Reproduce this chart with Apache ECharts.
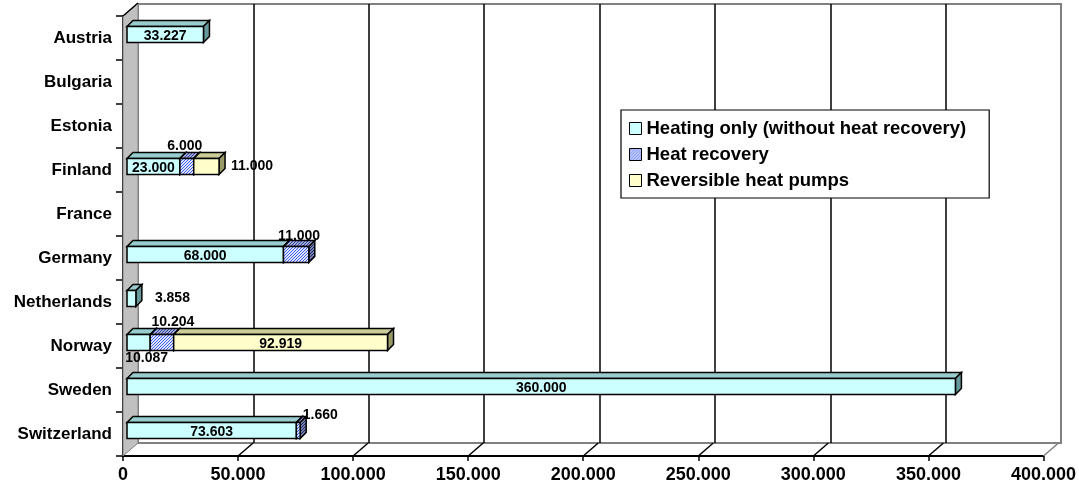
<!DOCTYPE html>
<html>
<head>
<meta charset="utf-8">
<script src="https://cdn.jsdelivr.net/npm/echarts@6/dist/echarts.min.js"></script>
<style>
  html, body { margin: 0; padding: 0; background: #fff; }
  #chart { width: 1079px; height: 488px; }
</style>
</head>
<body>
<div id="chart"></div>
<script>
const categories = ["Austria", "Bulgaria", "Estonia", "Finland", "France", "Germany", "Netherlands", "Norway", "Sweden", "Switzerland"];
const seriesNames = ["Heating only (without heat recovery)", "Heat recovery", "Reversible heat pumps"];
const heatingOnly = [33227, null, null, 23000, null, 68000, 3858, 10087, 360000, 73603];
const heatRecovery = [null, null, null, 6000, null, 11000, null, 10204, null, 1660];
const reversiblePumps = [null, null, null, 11000, null, null, null, 92919, null, null];
const xTicks = [0, 50000, 100000, 150000, 200000, 250000, 300000, 350000, 400000];

const FONT = "'Liberation Sans', Arial, sans-serif";
const WALL_DX = 15, WALL_DY = -13; // depth of the back wall
const BAR_DX = 6, BAR_DY = -6;     // depth of each bar
const BAR_OX = 4, BAR_OY = -3.5;   // bars sit a bit behind the front plane
const BAR_H = 16;

// label placement (style only), key = series index | category
const labelPlace = {
  "1|Finland": { pos: "top", dx: -2 },
  "2|Finland": { pos: "right", dx: 0 },
  "1|Germany": { pos: "top", dx: 3, dy: 2 },
  "0|Netherlands": { pos: "right", dx: 7 },
  "0|Norway": { pos: "bottom", dx: 8 },
  "1|Norway": { pos: "top", dx: 11 },
  "1|Switzerland": { pos: "top", dx: 22, dy: 5 },
};

const fmt = (v) => String(v).replace(/\B(?=(\d{3})+(?!\d))/g, ".");

/**
 * 斜线填充图案
 */
function hatch(bg, fg) {
  const c = document.createElement("canvas");
  c.width = 3;
  c.height = 3;
  const ctx = c.getContext("2d");
  ctx.fillStyle = bg;
  ctx.fillRect(0, 0, 3, 3);
  ctx.fillStyle = fg;
  for (let i = 0; i < 3; i++) ctx.fillRect(i, 2 - i, 1, 1);
  return { image: c, repeat: "repeat" };
}

const faces = [
  { front: "#CCFFFF", top: "#99CCCC", side: "#669999" },
  { front: hatch("#E0E6FF", "#3A5CF0"), top: hatch("#A8B0D8", "#28389C"), side: hatch("#7880A8", "#1C2870") },
  { front: "#FFFFCC", top: "#CCCC99", side: "#999966" },
];

const values = [heatingOnly, heatRecovery, reversiblePumps];

// stacked start/end per segment
const stackData = values.map((arr, si) =>
  arr
    .map((v, ci) => {
      if (v == null) return null;
      let start = 0;
      for (let k = 0; k < si; k++) start += values[k][ci] || 0;
      return [start, start + v, ci, v];
    })
    .filter(Boolean)
);

function renderBar(si) {
  return function (params, api) {
    const start = api.value(0), end = api.value(1), ci = api.value(2), v = api.value(3);
    const p0 = api.coord([start, ci]);
    const p1 = api.coord([end, ci]);
    const x0 = p0[0] + BAR_OX, x1 = p1[0] + BAR_OX;
    const yT = p0[1] - BAR_H / 2 + BAR_OY, yB = yT + BAR_H;
    const f = faces[si];
    const edge = { stroke: "#000", lineWidth: 1.5 };
    const children = [
      { type: "polygon", shape: { points: [[x0, yT], [x0 + BAR_DX, yT + BAR_DY], [x1 + BAR_DX, yT + BAR_DY], [x1, yT]] }, style: Object.assign({ fill: f.top }, edge) },
      { type: "polygon", shape: { points: [[x1, yT], [x1 + BAR_DX, yT + BAR_DY], [x1 + BAR_DX, yB + BAR_DY], [x1, yB]] }, style: Object.assign({ fill: f.side }, edge) },
      { type: "rect", shape: { x: x0, y: yT, width: x1 - x0, height: BAR_H }, style: Object.assign({ fill: f.front }, edge) },
    ];
    const place = labelPlace[si + "|" + categories[ci]] || { pos: "inside" };
    const dx = place.dx || 0, dy = place.dy || 0;
    let tx, ty, align = "center";
    if (place.pos === "right") {
      tx = x1 + BAR_DX + 6 + dx;
      ty = (yT + yB) / 2 + dy;
      align = "left";
    } else if (place.pos === "top") {
      tx = (x0 + x1) / 2 + dx;
      ty = yT + BAR_DY - 6 + dy;
    } else if (place.pos === "bottom") {
      tx = (x0 + x1) / 2 + dx;
      ty = yB + 8 + dy;
    } else {
      tx = (x0 + x1) / 2 + dx;
      ty = (yT + yB) / 2 + 2 + dy;
    }
    children.push({
      type: "text",
      z2: 100,
      style: { x: tx, y: ty, text: fmt(v), align: align, verticalAlign: "middle", fill: "#000", font: "bold 14px " + FONT },
    });
    return { type: "group", children: children };
  };
}

const barSeries = seriesNames.map((name, si) => ({
  name: name,
  type: "custom",
  xAxisIndex: 0,
  yAxisIndex: 0,
  z: 5 + si,
  renderItem: renderBar(si),
  itemStyle: { color: faces[si].front, borderColor: "#000", borderWidth: 1 },
  encode: { x: [0, 1], y: 2 },
  data: stackData[si],
}));

// side wall on the left
const sideWall = {
  type: "custom",
  xAxisIndex: 0,
  yAxisIndex: 0,
  z: 2,
  silent: true,
  renderItem: (params) => {
    const cs = params.coordSys;
    const b = cs.y + cs.height;
    return {
      type: "group",
      children: [
        { type: "polygon", shape: { points: [[cs.x, cs.y], [cs.x + WALL_DX, cs.y + WALL_DY], [cs.x + WALL_DX, b + WALL_DY], [cs.x, b]] }, style: { fill: "#C0C0C0", stroke: "#808080", lineWidth: 1 } },
        { type: "line", shape: { x1: cs.x, y1: cs.y, x2: cs.x + WALL_DX, y2: cs.y + WALL_DY }, style: { stroke: "#000", lineWidth: 1.5 } },
      ],
    };
  },
  data: [[0, 0]],
};

// floor edges from front ticks to back gridlines
const floorLines = {
  type: "custom",
  xAxisIndex: 0,
  yAxisIndex: 0,
  z: 2,
  silent: true,
  renderItem: (params, api) => {
    const cs = params.coordSys;
    const b = cs.y + cs.height;
    const x = api.coord([api.value(0), 0])[0];
    const last = api.value(0) === xTicks[xTicks.length - 1];
    return {
      type: "line",
      shape: { x1: x, y1: b, x2: x + WALL_DX, y2: b + WALL_DY },
      style: { stroke: last ? "#808080" : "#000", lineWidth: 1.5 },
    };
  },
  data: xTicks.slice(1).map((t) => [t, 0]),
};

const chart = echarts.init(document.getElementById("chart"), null, { renderer: "canvas" });
chart.setOption({
  animation: false,
  backgroundColor: "#fff",
  textStyle: { fontFamily: FONT },
  legend: {
    data: seriesNames,
    orient: "vertical",
    left: 621,
    top: 110,
    padding: [9, 23, 8, 8],
    itemGap: 7,
    itemWidth: 12,
    itemHeight: 12,
    icon: "rect",
    backgroundColor: "#fff",
    borderColor: "#000",
    borderWidth: 1.2,
    borderRadius: 0,
    itemStyle: { borderColor: "#000", borderWidth: 1 },
    textStyle: { fontSize: 18.5, fontWeight: "bold", color: "#000", fontFamily: FONT },
    selectedMode: false,
    z: 20,
  },
  grid: [
    { left: 123, right: 34, top: 16, bottom: 32, containLabel: false },
    { left: 138, right: 18, top: 4, bottom: 45, show: true, borderColor: "#808080", borderWidth: 2, backgroundColor: "transparent", containLabel: false },
  ],
  xAxis: [
    {
      gridIndex: 0,
      type: "value",
      min: 0,
      max: 400000,
      interval: 50000,
      axisLine: { show: true, lineStyle: { color: "#000", width: 2 } },
      axisTick: { show: true, length: 5, lineStyle: { color: "#000", width: 1.5 } },
      splitLine: { show: false },
      axisLabel: { color: "#000", fontSize: 18, fontWeight: "bold", margin: 10, formatter: (v) => fmt(v) },
    },
    {
      gridIndex: 1,
      type: "value",
      min: 0,
      max: 400000,
      interval: 50000,
      axisLine: { show: false },
      axisTick: { show: false },
      axisLabel: { show: false },
      splitLine: { show: true, showMinLine: false, showMaxLine: false, lineStyle: { color: "#000", width: 1.5 } },
    },
  ],
  yAxis: [
    {
      gridIndex: 0,
      type: "category",
      data: categories,
      inverse: true,
      axisLine: { show: true, lineStyle: { color: "#000", width: 2 } },
      axisTick: { show: true, length: 7, lineStyle: { color: "#000", width: 1.5 } },
      splitLine: { show: false },
      axisLabel: { color: "#000", fontSize: 17, fontWeight: "bold", margin: 11 },
    },
    {
      gridIndex: 1,
      type: "value",
      show: false,
      splitLine: { show: false },
    },
  ],
  series: [sideWall, floorLines].concat(barSeries),
});
</script>
</body>
</html>
